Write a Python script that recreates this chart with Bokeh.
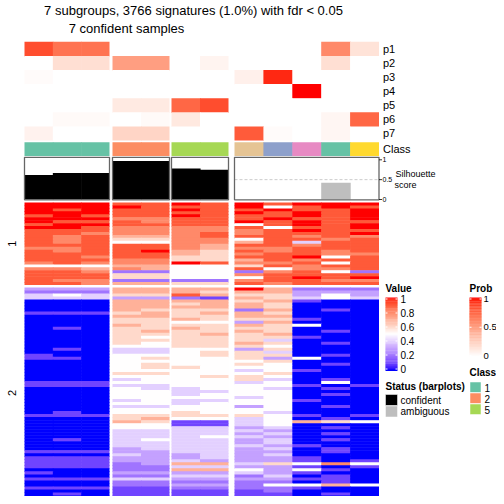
import numpy as np
from bokeh.plotting import figure
from bokeh.models import ColumnDataSource, LinearColorMapper, Label, Range1d
from bokeh.transform import transform
from bokeh.embed import file_html
from bokeh.resources import INLINE

# ---------------- data ----------------
title_line1 = "7 subgroups, 3766 signatures (1.0%) with fdr < 0.05"
title_line2 = "7 confident samples"

sample_group = [0, 0, 0, 1, 1, 2, 2, 3, 3, 3, 3, 3]
sample_class = ["1", "1", "1", "2", "2", "5", "5", "7", "3", "4", "1", "6"]
class_colors = {"1": "#66C2A5", "2": "#FC8D62", "3": "#8DA0CB", "4": "#E78AC3",
                "5": "#A6D854", "6": "#FFD92F", "7": "#E5C494"}
silhouette = [0.62, 0.67, 0.67, 0.97, 0.97, 0.78, 0.75, 0.0, 0.0, 0.0, 0.42, 0.0]
status = ["confident"] * 7 + ["ambiguous"] * 5
status_colors = {"confident": "black", "ambiguous": "#BEBEBE"}

prob_names = ["p1", "p2", "p3", "p4", "p5", "p6", "p7"]
prob = [
    [0.85, 0.70, 0.70, 0.00, 0.00, 0.00, 0.00, 0.00, 0.00, 0.00, 0.60, 0.15],
    [0.00, 0.17, 0.17, 0.50, 0.50, 0.00, 0.06, 0.00, 0.00, 0.00, 0.17, 0.00],
    [0.02, 0.00, 0.00, 0.00, 0.00, 0.00, 0.00, 0.08, 0.95, 0.00, 0.00, 0.00],
    [0.00, 0.00, 0.00, 0.00, 0.00, 0.00, 0.00, 0.00, 0.00, 1.00, 0.00, 0.00],
    [0.00, 0.00, 0.00, 0.11, 0.11, 0.75, 0.85, 0.00, 0.00, 0.00, 0.00, 0.00],
    [0.00, 0.03, 0.03, 0.00, 0.03, 0.12, 0.00, 0.00, 0.00, 0.00, 0.05, 0.75],
    [0.07, 0.00, 0.00, 0.22, 0.22, 0.00, 0.00, 0.80, 0.02, 0.00, 0.05, 0.00],
]

row_group_names = ["1", "2"]
# each character: value = int(c, 11) / 10  ('a' = 1.0)
rows_group1 = [
    "aaa 99 a9 a9aaa", "aaa a9 99 a59a9", "a9a 99 a9 9a99a", "aaa 99 99 a9a9a",
    "9a9 99 a9 99a9a", "aaa 88 99 9a99a", "a99 98 99 a9a99", "9aa 99 99 59a9a",
    "aa9 88 88 9599a", "999 88 88 89a99", "998 88 89 8999a", "989 77 89 99898",
    "989 66 88 59989", "989 55 88 79499", "999 99 87 99899", "889 99 87 88999",
    "989 9a 76 98989", "999 99 76 89988", "998 99 66 99a59", "999 88 66 79899",
    "898 88 a9 88959", "555 77 55 69899", "887 87 55 95889", "998 22 55 28952",
    "999 66 55 89999", "999 66 55 59a9a", "988 22 22 89988", "998 77 66 98999",
]
rows_group2 = [
    "333 77 77 a7222", "222 77 76 77333", "454 66 97 66353", "444 33 21 76454",
    "000 77 77 67100", "000 77 67 76000", "000 77 77 76000", "000 76 66 27010",
    "111 67 67 76000", "000 77 66 77000", "000 66 76 66100", "000 66 55 37000",
    "000 76 66 76500", "010 66 76 66000", "000 67 66 76010", "000 66 67 67000",
    "000 65 66 66100", "000 66 66 64000", "000 65 66 76010", "000 55 66 65000",
    "010 44 55 36000", "000 44 56 64000", "100 55 56 66010", "110 56 55 63500",
    "000 55 55 56000", "000 56 55 65010", "000 56 65 55000", "000 55 55 45100",
    "000 66 55 56000", "000 55 56 65000", "000 45 55 64010", "111 55 55 45050",
    "111 44 55 55101", "000 54 45 54010", "000 55 44 55000", "000 55 45 55010",
    "000 55 55 45000", "000 45 44 55100", "000 55 45 55000", "000 44 55 35010",
    "000 55 55 55000", "010 55 65 54000", "111 66 66 65101", "000 67 55 45010",
    "000 76 11 45765", "000 55 11 45000", "000 55 44 34010", "000 44 44 43000",
    "000 44 44 34010", "000 44 45 43000", "010 45 44 34010", "000 44 44 34000",
    "000 44 44 43100", "000 34 44 34010", "111 33 44 33010", "000 43 34 34000",
    "111 33 34 33100", "111 33 43 33101", "111 23 77 46585", "111 22 44 33101",
    "000 22 77 53510", "100 33 33 43100", "000 22 44 24010", "111 44 33 33110",
    "000 22 22 22010", "000 22 33 25575", "111 11 22 22100", "000 11 11 12000",
    "010 11 11 11010", "000 11 11 11000",
]

value_ticks = [0, 0.2, 0.4, 0.6, 0.8, 1]
prob_ticks = [0, 0.5, 1]
sil_ticks = [0, 0.5, 1]
legend_classes = ["1", "2", "5"]
status_names = ["confident", "ambiguous"]

# ---------------- colour helpers (LAB interpolation) ----------------
def _srgb_to_lab(c):
    rgb = np.array([int(c[i:i + 2], 16) / 255 for i in (1, 3, 5)])
    lin = np.where(rgb <= 0.04045, rgb / 12.92, ((rgb + 0.055) / 1.055) ** 2.4)
    M = np.array([[0.4124, 0.3576, 0.1805], [0.2126, 0.7152, 0.0722], [0.0193, 0.1192, 0.9505]])
    xyz = M @ lin / np.array([0.95047, 1.0, 1.08883])
    f = np.where(xyz > 0.008856, np.cbrt(xyz), 7.787 * xyz + 16 / 116)
    return np.array([116 * f[1] - 16, 500 * (f[0] - f[1]), 200 * (f[1] - f[2])])

def _lab_to_srgb(lab):
    L, a, b = lab
    fy = (L + 16) / 116
    fx = fy + a / 500
    fz = fy - b / 200
    f = np.array([fx, fy, fz])
    xyz = np.where(f ** 3 > 0.008856, f ** 3, (f - 16 / 116) / 7.787) * np.array([0.95047, 1.0, 1.08883])
    Mi = np.array([[3.2406, -1.5372, -0.4986], [-0.9689, 1.8758, 0.0415], [0.0557, -0.2040, 1.0570]])
    lin = np.clip(Mi @ xyz, 0, 1)
    rgb = np.where(lin <= 0.0031308, 12.92 * lin, 1.055 * lin ** (1 / 2.4) - 0.055)
    rgb = np.clip(np.round(rgb * 255), 0, 255).astype(int)
    return "#%02x%02x%02x" % tuple(rgb)

def lab_palette(stops, n=256):
    labs = [_srgb_to_lab(c) for c in stops]
    out = []
    for t in np.linspace(0, 1, n):
        seg = min(int(t * (len(stops) - 1)), len(stops) - 2)
        u = t * (len(stops) - 1) - seg
        out.append(_lab_to_srgb(labs[seg] * (1 - u) + labs[seg + 1] * u))
    return out

bwr = LinearColorMapper(palette=lab_palette(["#0000ff", "#ffffff", "#ff0000"]), low=0, high=1)
wr = LinearColorMapper(palette=lab_palette(["#ffffff", "#ff0000"]), low=0, high=1)

# ---------------- layout ----------------
FONT = "Liberation Sans"
group_x = [(24, 109), (112, 169), (171, 228), (234, 378.5)]
prob_top, prob_h = 41.3, 14.1
class_y = (141.8, 155.6)
sil_box = (156.8, 199.3)
sil_zero, sil_one = 199.0, 159.3
row_group_y = [(202, 284.5), (287, 498)]
OV = 0.6  # overlap of neighbouring cells (avoids anti-alias seams)

p = figure(width=496, height=496, x_range=Range1d(0, 496), y_range=Range1d(496, 0),
           output_backend="svg", toolbar_location=None, min_border=0)
p.axis.visible = False
p.grid.visible = False
p.outline_line_color = None
p.background_fill_color = "white"

# column edges
col_left, col_right, col_last = [], [], []
for gi, (x0, x1) in enumerate(group_x):
    idx = [j for j, g in enumerate(sample_group) if g == gi]
    w = (x1 - x0) / len(idx)
    for k, j in enumerate(idx):
        col_left.append(x0 + k * w)
        col_right.append(x0 + (k + 1) * w)
        col_last.append(k == len(idx) - 1)
col_right_ov = [r if last else r + OV for r, last in zip(col_right, col_last)]

def lab(x, y, text, size="10px", align="left", base="middle", bold=False, angle=0.0):
    p.add_layout(Label(x=x, y=y, text=text, text_font=FONT, text_font_size=size,
                       text_align=align, text_baseline=base, angle=angle,
                       text_font_style="bold" if bold else "normal", text_color="black"))

# titles
lab(193, 10, title_line1, size="13px", align="center")
lab(126, 28, title_line2, size="13px", align="center")

# prob annotation rows
pl, pr, pt, pb, pv = [], [], [], [], []
for i, name in enumerate(prob_names):
    for j in range(len(sample_group)):
        pl.append(col_left[j]); pr.append(col_right_ov[j])
        pt.append(prob_top + i * prob_h); pb.append(prob_top + (i + 1) * prob_h + (OV if i < 6 else 0))
        pv.append(prob[i][j])
    lab(group_x[-1][1] + 4, prob_top + (i + 0.5) * prob_h, name, size="11px")
src = ColumnDataSource(dict(left=pl, right=pr, top=pt, bottom=pb, v=pv))
p.quad(left="left", right="right", top="top", bottom="bottom", source=src,
       fill_color=transform("v", wr), line_color=None)

# class annotation
p.quad(left=col_left, right=col_right_ov, top=class_y[0], bottom=class_y[1],
       fill_color=[class_colors[c] for c in sample_class], line_color=None)
lab(group_x[-1][1] + 4, sum(class_y) / 2, "Class", size="11px")

# silhouette barplot
def sy(v):
    return sil_zero - v * (sil_zero - sil_one)

for (x0, x1) in group_x:
    p.segment(x0=x0, x1=x1, y0=sy(0.5), y1=sy(0.5), line_color="#CCCCCC",
              line_dash="3 2", line_width=1)
p.quad(left=col_left, right=col_right_ov, bottom=sy(0), top=[sy(v) for v in silhouette],
       fill_color=[status_colors[s] for s in status], line_color=None)
for (x0, x1) in group_x:
    p.quad(left=x0, right=x1, top=sil_box[0], bottom=sil_box[1], fill_color=None,
           line_color="#666666", line_width=1.3)
ax_x = group_x[-1][1]
for t in sil_ticks:
    p.segment(x0=ax_x, x1=ax_x + 3, y0=sy(t), y1=sy(t), line_color="black", line_width=0.8)
    lab(ax_x + 3.5, sy(t), ("%g" % t), size="7px")
lab(395, 173, "Silhouette", size="9px")
lab(394, 184, "score", size="9px")

# main heatmap
hl, hr, ht, hb, hv = [], [], [], [], []
for gi, rows in enumerate([rows_group1, rows_group2]):
    y0, y1 = row_group_y[gi]
    h = (y1 - y0) / len(rows)
    for r, s in enumerate(rows):
        vals = [int(c, 11) / 10 for c in s.replace(" ", "")]
        for j, v in enumerate(vals):
            hl.append(col_left[j]); hr.append(col_right_ov[j])
            ht.append(y0 + r * h)
            hb.append(y0 + (r + 1) * h + (OV if r < len(rows) - 1 else 0))
            hv.append(v)
    lab(11, (y0 + y1) / 2, row_group_names[gi], size="11px", align="center", angle=np.pi / 2)
hsrc = ColumnDataSource(dict(left=hl, right=hr, top=ht, bottom=hb, v=hv))
p.quad(left="left", right="right", top="top", bottom="bottom", source=hsrc,
       fill_color=transform("v", bwr), line_color=None)

# ---------------- legends ----------------
def gradient(x0, x1, ytop, ybot, mapper, ticks, label_x, size):
    n = 80
    vs = list(np.linspace(1, 0, n))
    hh = (ybot - ytop) / n
    gsrc = ColumnDataSource(dict(v=vs,
                                 top=[ytop + k * hh for k in range(n)],
                                 bottom=[ytop + (k + 1) * hh + 0.4 for k in range(n)]))
    p.quad(left=x0, right=x1, top="top", bottom="bottom",
           fill_color=transform("v", mapper), line_color=None, source=gsrc)
    for t in ticks:
        yy = ybot - 1.5 - t * (ybot - ytop - 3)
        p.segment(x0=[x0, x1 - 2], x1=[x0 + 2, x1], y0=[yy, yy], y1=[yy, yy],
                  line_color="white", line_width=1)
        lab(label_x, yy, "%g" % t, size=size)

lab(385, 288, "Value", size="10px", bold=True)
gradient(385, 397, 297, 370, bwr, value_ticks, 400, "10px")
lab(469, 288, "Prob", size="10px", bold=True)
gradient(469, 481, 297, 356.5, wr, prob_ticks, 483, "9.5px")

lab(469, 372, "Class", size="10px", bold=True)
for k, c in enumerate(legend_classes):
    p.quad(left=469.5, right=480.5, top=381.5 + k * 11, bottom=392 + k * 11,
           fill_color=class_colors[c], line_color="white", line_width=0.5)
    lab(484, 387 + k * 11, c, size="10px")

lab(385, 386, "Status (barplots)", size="10px", bold=True)
for k, s in enumerate(status_names):
    p.quad(left=385, right=397, top=394 + k * 11.5, bottom=405 + k * 11.5,
           fill_color=status_colors[s], line_color="white", line_width=0.5)
    lab(400, 399.5 + k * 11.5, s, size="10px")

open("out.html", "w").write(file_html(p, INLINE))
